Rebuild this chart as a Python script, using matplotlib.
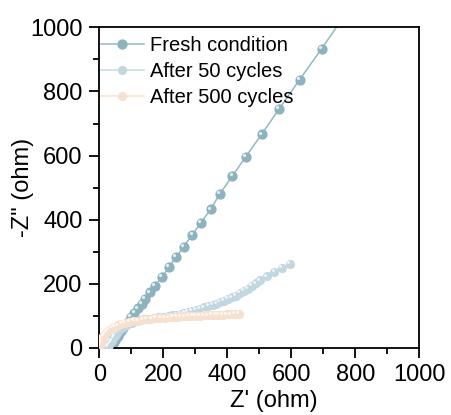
import matplotlib
matplotlib.use("Agg")
import matplotlib.pyplot as plt
import matplotlib.transforms as mtransforms
from matplotlib.ticker import MultipleLocator

plt.rcParams['font.family'] = ['Liberation Sans', 'DejaVu Sans']

# Nyquist data, Z' and -Z'' in ohm
fresh_x = [33, 36, 38, 42, 45, 49, 53, 58, 63, 69, 75, 82, 89, 100, 110, 120, 133,
           143, 159, 175, 196, 218, 240, 264, 291, 318, 348, 377, 416, 458, 507,
           562, 626, 695, 768]
fresh_y = [2, 5, 9, 14, 19, 25, 31, 38, 45, 53, 62, 71, 81, 97, 109, 123, 136,
           152, 173, 194, 221, 252, 283, 316, 353, 391, 432, 481, 536, 597, 666,
           746, 837, 934, 1040]

c50_x = [28, 31, 35, 39, 44, 50, 56, 63, 71, 80, 90, 101, 113, 126, 140, 155, 170,
         185, 200, 214, 228, 241, 254, 266, 278, 290, 302, 315, 328, 341, 354, 366,
         378, 390, 402, 414, 427, 440, 452, 464, 476, 489, 502, 524, 547, 571, 596]
c50_y = [2, 8, 15, 22, 30, 38, 46, 54, 61, 67, 73, 78, 82, 86, 89, 91, 93,
         95, 97, 99, 101, 103, 106, 109, 112, 115, 118, 122, 126, 130, 134, 138,
         142, 147, 152, 157, 163, 170, 177, 184, 193, 201, 210, 223, 236, 250, 263]

c500_x = [3, 4, 6, 9, 13, 18, 24, 31, 39, 48, 58, 69, 81, 94, 107, 121, 135, 149,
          163, 177, 191, 204, 217, 230, 243, 255, 267, 279, 291, 303, 315, 327, 339,
          351, 363, 375, 387, 399, 411, 423, 435]
c500_y = [6, 14, 22, 30, 37, 44, 50, 56, 61, 66, 70, 74, 77, 80, 83, 85, 87, 89,
          91, 92, 93, 94, 95, 96, 97, 98, 98, 99, 99, 100, 100, 101, 101,
          102, 102, 103, 103, 104, 104, 105, 105]

series = [
    (fresh_x, fresh_y, "Fresh condition", "#8db4be", "#93b9c3", 7.4),
    (c50_x, c50_y, "After 50 cycles", "#c2d8e1", "#c2d8e1", 6.6),
    (c500_x, c500_y, "After 500 cycles", "#f6e1d0", "#f6e1d0", 6.6),
]

fig = plt.figure(figsize=(4.51, 4.15), dpi=100)
ax = fig.add_axes([0.220, 0.162, 0.710, 0.772])

# little white glint on each ball, up and to the left
glint = mtransforms.offset_copy(ax.transData, fig=fig, x=-1.3, y=1.3, units='points')

for i, (x, y, label, mc, lc, ms) in enumerate(series):
    ax.plot(x, y, '-', color=lc, lw=1.1, marker='o', ms=ms, mfc=mc, mec=mc,
            mew=0, label=label, zorder=2 + i)
    ax.plot(x, y, 'o', ls='none', ms=ms * 0.32, mfc='white', mew=0, alpha=0.75,
            transform=glint, zorder=2 + i + 0.5)

ax.set_xlim(0, 1000)
ax.set_ylim(0, 1000)
ax.xaxis.set_major_locator(MultipleLocator(200))
ax.xaxis.set_minor_locator(MultipleLocator(100))
ax.yaxis.set_major_locator(MultipleLocator(200))
ax.yaxis.set_minor_locator(MultipleLocator(100))
ax.tick_params(which='both', direction='out', top=False, right=False, width=1.3,
               labelsize=17)
ax.tick_params(which='major', length=7, pad=5)
ax.tick_params(which='minor', length=4)
for s in ax.spines.values():
    s.set_linewidth(1.3)

ax.set_xlabel("Z' (ohm)", fontsize=17)
ax.set_ylabel('-Z" (ohm)', fontsize=17)
ax.xaxis.set_label_coords(0.545, -0.132)
ax.yaxis.set_label_coords(-0.205, 0.5)

ax.legend(loc='upper left', frameon=False, fontsize=14.5, handlelength=2.1,
          handletextpad=0.3, labelspacing=0.33, borderaxespad=0.0, borderpad=0.1,
          bbox_to_anchor=(0.0, 0.978))

fig.savefig("out.png", dpi=100)
